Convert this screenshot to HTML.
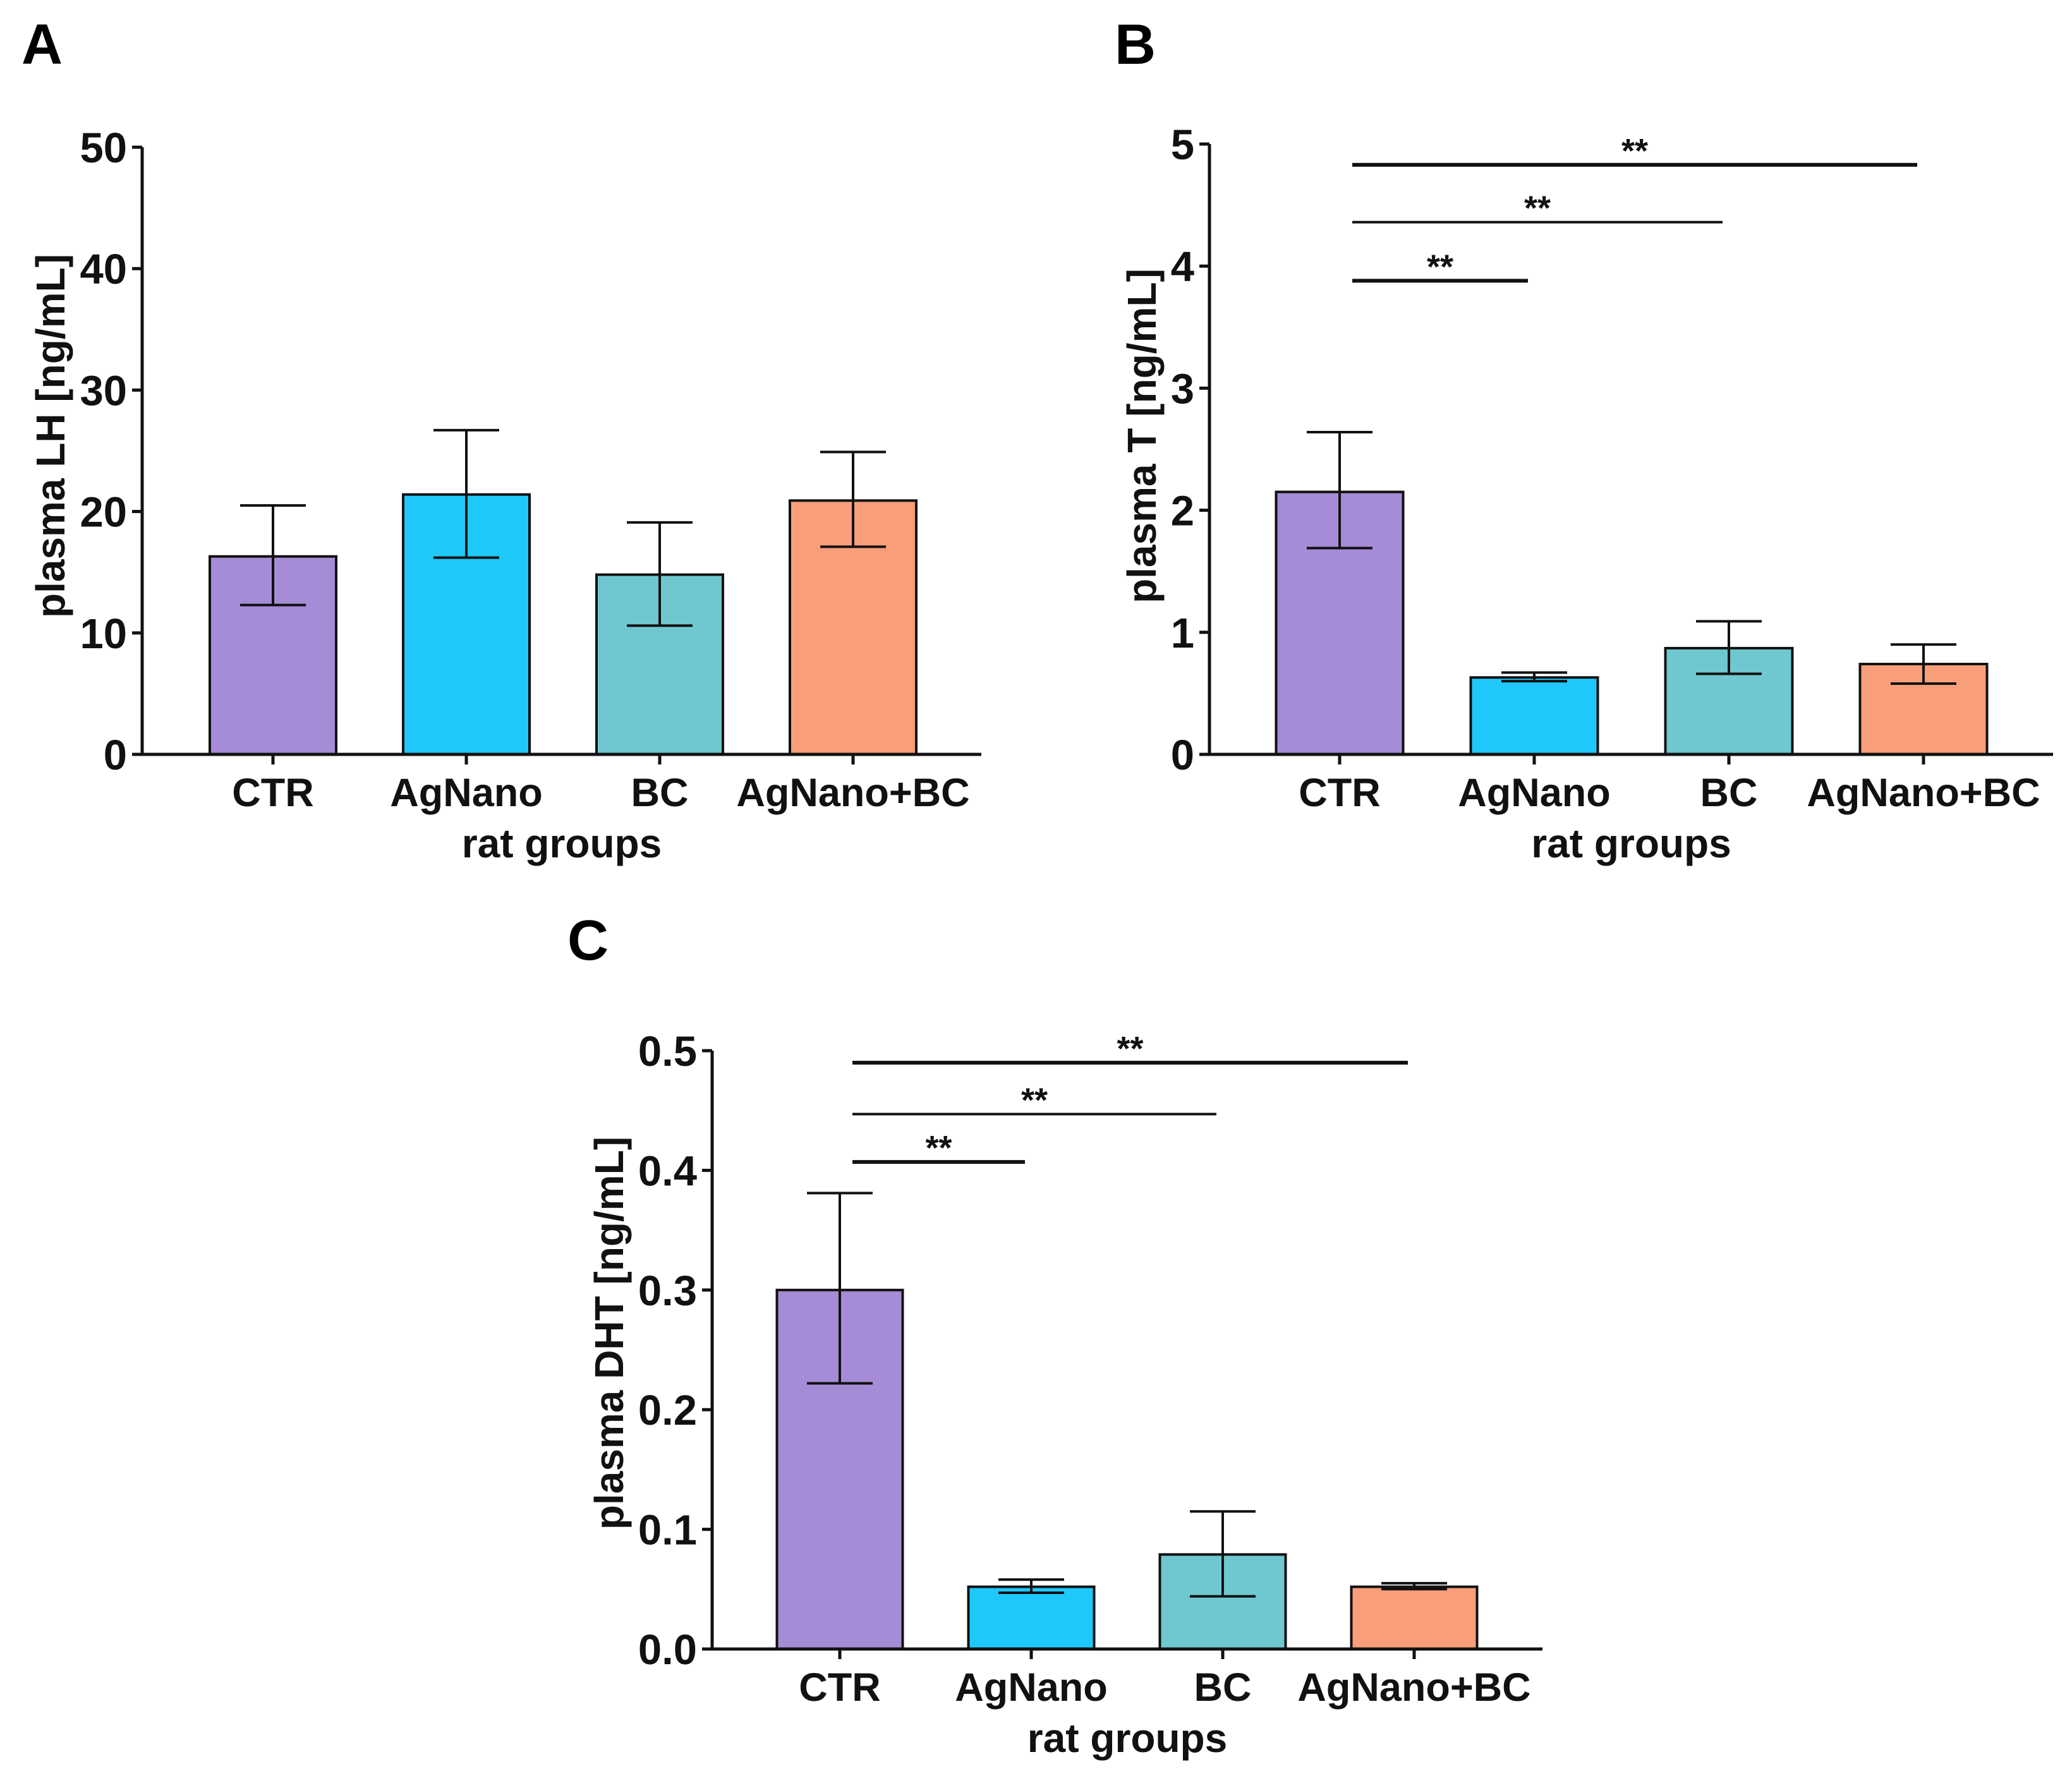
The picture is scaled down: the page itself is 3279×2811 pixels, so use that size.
<!DOCTYPE html>
<html><head><meta charset="utf-8"><style>
html,body{margin:0;padding:0;background:#fff;}
svg{display:block;font-family:"Liberation Sans",Arial,sans-serif;font-weight:bold;}
</style></head><body>
<svg id="fig" width="3279" height="2811" viewBox="0 0 3279 2811" xmlns="http://www.w3.org/2000/svg">
<rect width="3279" height="2811" fill="#fff"/>
<text x="34" y="101" font-size="90">A</text>
<text x="1764" y="101" font-size="90">B</text>
<text x="898" y="1519" font-size="90">C</text>
</svg>
<script>
const categories = ["CTR","AgNano","BC","AgNano+BC"];
const colors = ["#a68bd6","#1ec8fb","#6fc8cf","#f99e7a"];
const lhMean = [16.3, 21.4, 14.8, 20.9];
const lhLow = [12.3, 16.2, 10.6, 17.1];
const lhHigh = [20.5, 26.7, 19.1, 24.9];
const lhTicks = [0,10,20,30,40,50];
const lhTickLabels = ["0","10","20","30","40","50"];
const tMean = [2.15, 0.63, 0.87, 0.74];
const tLow = [1.69, 0.60, 0.66, 0.58];
const tHigh = [2.64, 0.67, 1.09, 0.90];
const tTicks = [0,1,2,3,4,5];
const tTickLabels = ["0","1","2","3","4","5"];
const tSigLevels = [3.88, 4.36, 4.83];
const tSigTargets = [1, 2, 3];
const dhtMean = [0.300, 0.052, 0.079, 0.052];
const dhtLow = [0.222, 0.047, 0.044, 0.050];
const dhtHigh = [0.381, 0.058, 0.115, 0.055];
const dhtTicks = [0,0.1,0.2,0.3,0.4,0.5];
const dhtTickLabels = ["0.0","0.1","0.2","0.3","0.4","0.5"];
const dhtSigLevels = [0.407, 0.447, 0.490];
const dhtSigTargets = [1, 2, 3];

const NS = "http://www.w3.org/2000/svg";
const svg = document.getElementById("fig");
function mk(tag, attrs, parent){
  const e = document.createElementNS(NS, tag);
  for (const k in attrs) e.setAttribute(k, attrs[k]);
  (parent||svg).appendChild(e);
  return e;
}
function panel(p){
  const g = mk("g", {});
  
  
  const yS = v => p.y0 - (v - p.ymin) / (p.ymax - p.ymin) * (p.y0 - p.y1);
  const xS = i => p.cx0 + i * p.step;
  const bw = p.bw;
  p.mean.forEach((v,i)=>{
    const r = mk("rect", {x:xS(i)-bw/2, y:yS(v), width:bw, height:p.y0-yS(v), fill:colors[i], stroke:"#111", "stroke-width":4}, g);
    
    
    const eb = mk("path", {d:`M${xS(i)},${yS(p.low[i])}V${yS(p.high[i])}M${xS(i)-52},${yS(p.high[i])}H${xS(i)+52}M${xS(i)-52},${yS(p.low[i])}H${xS(i)+52}`, stroke:"#111", "stroke-width":4, fill:"none"}, g);
    
    
  });
  const ya = mk("path", {d:`M${p.ax},${p.y1}V${p.y0}`, stroke:"#111", "stroke-width":5, fill:"none"}, g);
  
  
  const xa = mk("path", {d:`M${p.ax-16},${p.y0}H${p.xend}`, stroke:"#111", "stroke-width":5, fill:"none"}, g);
  
  
  p.ticks.forEach((t,i)=>{
    mk("path", {d:`M${p.ax-16},${yS(t)}H${p.ax}`, stroke:"#111", "stroke-width":5}, g);
    const tl = mk("text", {x:p.ax-24, y:yS(t)+24, "font-size":67, "text-anchor":"end", fill:"#111"}, g);
    tl.textContent = p.tickLabels[i];
    
    
  });
  categories.forEach((c,i)=>{
    mk("path", {d:`M${xS(i)},${p.y0}V${p.y0+16}`, stroke:"#111", "stroke-width":5}, g);
    const tl = mk("text", {x:xS(i), y:p.y0+82, "font-size":63, "text-anchor":"middle", fill:"#111"}, g);
    tl.textContent = c;
    
    
  });
  const xt = mk("text", {x:(p.ax+p.xend)/2, y:p.y0+163, "font-size":64, "text-anchor":"middle", fill:"#111"}, g);
  xt.textContent = "rat groups";
  
  
  const yt = mk("text", {x:0, y:0, "font-size":64, "text-anchor":"middle", fill:"#111", transform:`translate(${p.ytx},${p.yty}) rotate(-90)`}, g);
  yt.textContent = p.ytitle;
  
  
  if (p.sig) p.sig.forEach((lv,k)=>{
    const x1 = xS(0) + 20, x2 = xS(p.sigT[k]) - 10;
    const ln = mk("path", {d:`M${x1},${yS(lv)}H${x2}`, stroke:"#111", "stroke-width":k===1?4:6}, g);
    
    
    const st = mk("text", {x:(x1+x2)/2, y:yS(lv)-4, "font-size":54, "text-anchor":"middle", fill:"#111"}, g);
    st.textContent = "**";
    
    
  });
}
panel({id:"panel-a-lh-chart", mean:lhMean, low:lhLow, high:lhHigh, ticks:lhTicks, tickLabels:lhTickLabels, ymin:0, ymax:50,
  ax:225, xend:1553, y0:1194, y1:233, cx0:432, step:306, bw:200, ytitle:"plasma LH [ng/mL]", ytx:102, yty:690});
panel({id:"panel-b-t-chart", mean:tMean, low:tLow, high:tHigh, ticks:tTicks, tickLabels:tTickLabels, ymin:0, ymax:5,
  ax:1914, xend:3249, y0:1194, y1:228, cx0:2120, step:308, bw:201, ytitle:"plasma T [ng/mL]", ytx:1829, yty:690,
  sig:tSigLevels, sigT:tSigTargets});
panel({id:"panel-c-dht-chart", mean:dhtMean, low:dhtLow, high:dhtHigh, ticks:dhtTicks, tickLabels:dhtTickLabels, ymin:0, ymax:0.5,
  ax:1127, xend:2441, y0:2610, y1:1663, cx0:1329, step:303, bw:199, ytitle:"plasma DHT [ng/mL]", ytx:986, yty:2110,
  sig:dhtSigLevels, sigT:dhtSigTargets});
</script>
</body></html>
